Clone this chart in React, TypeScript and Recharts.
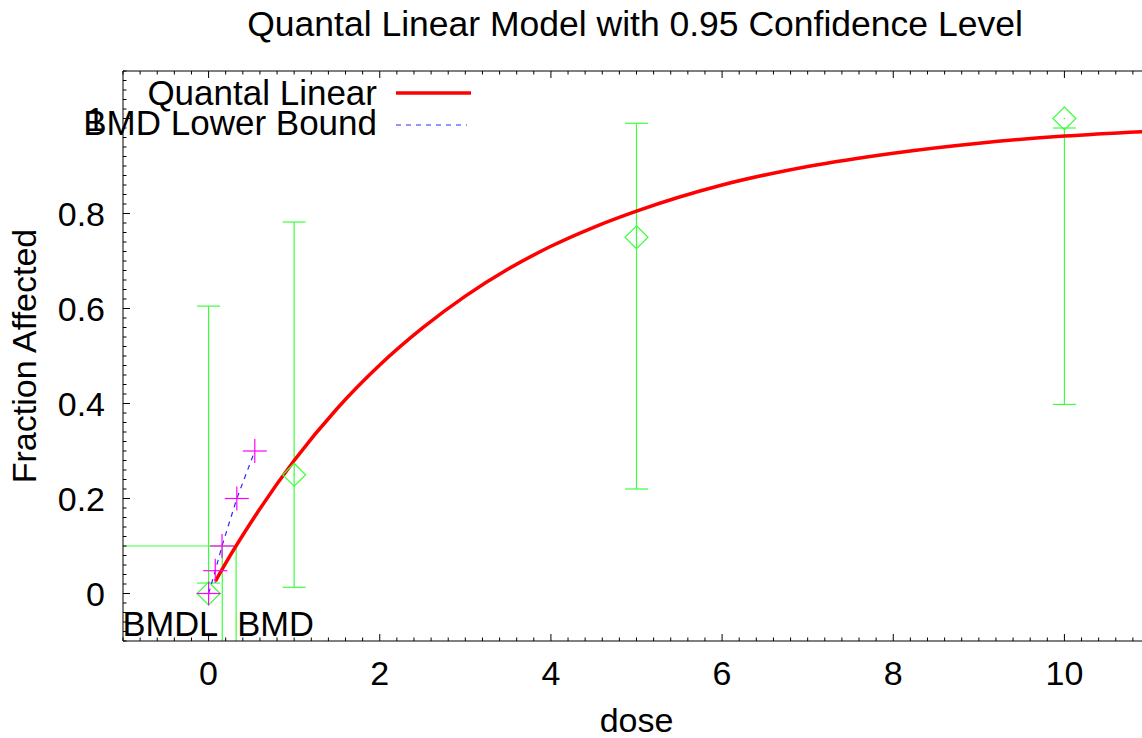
import React from 'react';
import {
  ComposedChart,
  Line,
  Scatter,
  ErrorBar,
  XAxis,
  YAxis,
  ReferenceLine,
  ReferenceDot,
  Legend,
} from 'recharts';

const FONT = '"Liberation Sans", Arial, Helvetica, sans-serif';
const GREEN = '#3cff3c';
const RED = '#ff0000';
const BLUE = '#2a2aff';
const MAGENTA = '#ff00ff';

// observed dose groups
const doses = [0, 1, 5, 10];
const fractionAffected = [0, 0.25, 0.75, 1.0];
const ciLower = [0.022, 0.013, 0.22, 0.398];
const ciUpper = [0.605, 0.782, 0.99, 0.98];

// fitted quantal linear curve
const curveDoses = [0.08, 0.25, 0.5, 1, 1.5, 2, 2.5, 3, 3.5, 4, 4.5, 5, 6, 7, 8, 9, 10, 11];
const curveValues = [
  0.026, 0.079, 0.151, 0.28, 0.389, 0.481, 0.559, 0.626, 0.683, 0.731, 0.771, 0.805, 0.86,
  0.899, 0.927, 0.948, 0.963, 0.973,
];

// BMD lower bound points
const bmdlDoses = [0, 0.078, 0.157, 0.33, 0.54];
const bmdlValues = [0, 0.048, 0.1, 0.2, 0.3];

const BMR = 0.1;
const BMD = 0.322;
const BMDL = 0.16;

const X_DOMAIN: [number, number] = [-1, 11];
const Y_DOMAIN: [number, number] = [-0.1, 1.1];

// layout
const CHART_W = 1150;
const CHART_H = 738;
const PLOT_TOP = 71;
const X_AXIS_H = 97;
const Y_AXIS_W = 123;
const PLOT_RIGHT = CHART_W;

// axis ticks: majors labelled, minors every tenth
const xTicks = Array.from({ length: 61 }, (_, i) => Math.round((-1 + i * 0.2) * 10) / 10);
const yTicks = Array.from({ length: 61 }, (_, i) => Math.round((-0.1 + i * 0.02) * 100) / 100);
const isMajor = (v: number, step: number) => Math.abs(v / step - Math.round(v / step)) < 1e-6;

const observed = doses.map((d, i) => ({
  x: d,
  y: fractionAffected[i],
  err: [fractionAffected[i] - ciLower[i], ciUpper[i] - fractionAffected[i]],
}));
const curve = curveDoses.map((d, i) => ({ x: d, y: curveValues[i] }));
const bmdlCurve = bmdlDoses.map((d, i) => ({ x: d, y: bmdlValues[i] }));

const legendOrder = ['Quantal Linear', 'BMD Lower Bound'];
const seriesStyle: Record<string, { stroke: string; width: number; dash?: string; x2: number; dy: number }> = {
  'Quantal Linear': { stroke: RED, width: 3.5, x2: 471, dy: -12 },
  'BMD Lower Bound': { stroke: BLUE, width: 1, dash: '5 5', x2: 467, dy: -10 },
};

const XTick = (props: any) => {
  const { x, y, payload } = props;
  const v = payload.value;
  const major = isMajor(v, 2);
  const len = major ? 7 : 3.5;
  return (
    <g>
      <line x1={x} x2={x} y1={y} y2={y - len} stroke="#000" strokeWidth={1} />
      <line x1={x} x2={x} y1={PLOT_TOP} y2={PLOT_TOP + len} stroke="#000" strokeWidth={1} />
      {major && (
        <text x={x} y={y + 44} textAnchor="middle" fontSize={34} fontFamily={FONT} fill="#000">
          {v}
        </text>
      )}
    </g>
  );
};

const YTick = (props: any) => {
  const { x, y, payload } = props;
  const v = payload.value;
  const major = isMajor(v, 0.2);
  const len = major ? 7 : 3.5;
  return (
    <g>
      <line x1={x} x2={x + len} y1={y} y2={y} stroke="#000" strokeWidth={1} />
      <line x1={PLOT_RIGHT - len} x2={PLOT_RIGHT} y1={y} y2={y} stroke="#000" strokeWidth={1} />
      {major && (
        <text x={x - 18} y={y + 12} textAnchor="end" fontSize={34} fontFamily={FONT} fill="#000">
          {v}
        </text>
      )}
    </g>
  );
};

const Diamond = (props: any) => {
  const { cx, cy } = props;
  const r = 11.5;
  return (
    <g>
      <path
        d={`M${cx},${cy - r}L${cx + r},${cy}L${cx},${cy + r}L${cx - r},${cy}Z`}
        fill="none"
        stroke={GREEN}
        strokeWidth={1.2}
      />
      <circle cx={cx} cy={cy} r={0.8} fill={GREEN} />
    </g>
  );
};

const Plus = (props: any) => {
  const { cx, cy } = props;
  const r = 12;
  return (
    <g stroke={MAGENTA} strokeWidth={1.2}>
      <line x1={cx - r} x2={cx + r} y1={cy} y2={cy} />
      <line x1={cx} x2={cx} y1={cy - r} y2={cy + r} />
    </g>
  );
};

const renderLegend = (props: any) => {
  const payload = props.payload || [];
  const items = legendOrder
    .map((name) => payload.find((p: any) => p.value === name))
    .filter(Boolean);
  return (
    <svg width={480} height={145} style={{ display: 'block', overflow: 'visible' }}>
      {items.map((p: any, i: number) => {
        const s = seriesStyle[p.value];
        const base = 105 + i * 30;
        return (
          <g key={p.value}>
            <text x={377} y={base} textAnchor="end" fontSize={35} fontFamily={FONT} fill="#000">
              {p.value}
            </text>
            <line
              x1={396}
              x2={s.x2}
              y1={base + s.dy}
              y2={base + s.dy}
              stroke={s.stroke}
              strokeWidth={s.width}
              strokeDasharray={s.dash}
            />
          </g>
        );
      })}
    </svg>
  );
};

export default function App() {
  return (
    <div
      style={{
        position: 'absolute',
        left: 0,
        top: 0,
        width: 1142,
        height: 738,
        overflow: 'hidden',
        background: '#fff',
      }}
    >
      <svg width={1142} height={50} style={{ position: 'absolute', left: 0, top: 0 }}>
        <text x={635} y={36} textAnchor="middle" fontSize={35.5} fontFamily={FONT} fill="#000">
          Quantal Linear Model with 0.95 Confidence Level
        </text>
      </svg>
      <ComposedChart
        width={CHART_W}
        height={CHART_H}
        margin={{ top: PLOT_TOP, right: 0, bottom: 0, left: 0 }}
        style={{ position: 'absolute', left: 0, top: 0 }}
      >
        <XAxis
          type="number"
          dataKey="x"
          domain={X_DOMAIN}
          allowDataOverflow
          ticks={xTicks}
          interval={0}
          tickSize={0}
          tickMargin={0}
          tickLine={false}
          tick={XTick}
          axisLine={{ stroke: '#000', strokeWidth: 1 }}
          height={X_AXIS_H}
          label={(p: any) => {
            const vb = p.viewBox;
            return (
              <text
                x={vb.x + vb.width / 2}
                y={vb.y + 91}
                textAnchor="middle"
                fontSize={34}
                fontFamily={FONT}
                fill="#000"
              >
                dose
              </text>
            );
          }}
        />
        <YAxis
          type="number"
          domain={Y_DOMAIN}
          allowDataOverflow
          ticks={yTicks}
          interval={0}
          tickSize={0}
          tickMargin={0}
          tickLine={false}
          tick={YTick}
          axisLine={{ stroke: '#000', strokeWidth: 1 }}
          width={Y_AXIS_W}
          label={(p: any) => {
            const vb = p.viewBox;
            const cy = vb.y + vb.height / 2;
            return (
              <text
                x={36}
                y={cy}
                transform={`rotate(-90 36 ${cy})`}
                textAnchor="middle"
                fontSize={34}
                fontFamily={FONT}
                fill="#000"
              >
                Fraction Affected
              </text>
            );
          }}
        />
        <ReferenceLine y={Y_DOMAIN[1]} stroke="#000" strokeWidth={1} />

        {/* BMR / BMD / BMDL markers */}
        <ReferenceLine
          segment={[
            { x: X_DOMAIN[0], y: BMR },
            { x: BMD, y: BMR },
          ]}
          stroke={GREEN}
          strokeWidth={1.2}
        />
        <ReferenceLine
          segment={[
            { x: BMDL, y: Y_DOMAIN[0] },
            { x: BMDL, y: BMR },
          ]}
          stroke={GREEN}
          strokeWidth={1.2}
        />
        <ReferenceLine
          segment={[
            { x: BMD, y: Y_DOMAIN[0] },
            { x: BMD, y: BMR },
          ]}
          stroke={GREEN}
          strokeWidth={1.2}
        />
        <ReferenceDot
          x={BMDL}
          y={Y_DOMAIN[0]}
          r={1}
          fill="none"
          stroke="none"
          label={(p: any) => (
            <text
              x={p.viewBox.x - 3}
              y={p.viewBox.y - 4}
              textAnchor="end"
              fontSize={34.5}
              fontFamily={FONT}
              fill="#000"
            >
              BMDL
            </text>
          )}
        />
        <ReferenceDot
          x={BMD}
          y={Y_DOMAIN[0]}
          r={1}
          fill="none"
          stroke="none"
          label={(p: any) => (
            <text
              x={p.viewBox.x + 2}
              y={p.viewBox.y - 4}
              textAnchor="start"
              fontSize={34.5}
              fontFamily={FONT}
              fill="#000"
            >
              BMD
            </text>
          )}
        />

        <Scatter
          name="Observed"
          data={observed}
          dataKey="y"
          shape={Diamond}
          legendType="none"
          isAnimationActive={false}
        >
          <ErrorBar dataKey="err" direction="y" width={11.5} stroke={GREEN} strokeWidth={1.2} />
        </Scatter>
        <Line
          name="Quantal Linear"
          data={curve}
          dataKey="y"
          type="monotone"
          stroke={RED}
          strokeWidth={3.5}
          dot={false}
          isAnimationActive={false}
        />
        <Line
          name="BMD Lower Bound"
          data={bmdlCurve}
          dataKey="y"
          type="linear"
          stroke={BLUE}
          strokeWidth={1.2}
          strokeDasharray="5 5"
          dot={false}
          isAnimationActive={false}
        />
        <Scatter
          name="BMDL points"
          data={bmdlCurve}
          dataKey="y"
          shape={Plus}
          legendType="none"
          isAnimationActive={false}
        />
        <Legend
          layout="vertical"
          align="center"
          verticalAlign="middle"
          content={renderLegend}
          wrapperStyle={{ position: 'absolute', left: 0, top: 0, width: 480, height: 145 }}
        />
      </ComposedChart>
    </div>
  );
}
